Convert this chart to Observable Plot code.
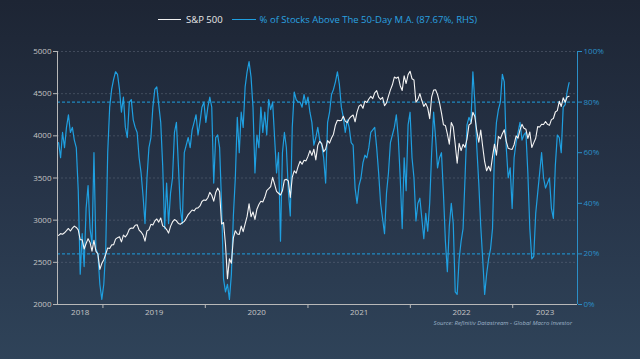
<!DOCTYPE html>
<html>
<head>
<meta charset="utf-8">
<script src="https://cdn.jsdelivr.net/npm/d3@7"></script>
<script src="https://cdn.jsdelivr.net/npm/@observablehq/plot@0.6"></script>
<style>
  html, body { margin: 0; padding: 0; width: 640px; height: 359px; overflow: hidden; }
  body { background: linear-gradient(to bottom, #1d2534 0%, #263347 50%, #2f4359 100%); font-family: "Open Sans", sans-serif; position: relative; }
  #legend { position: absolute; left: 158px; top: 12px; height: 15px; display: flex; align-items: center; font-size: 9.5px; white-space: nowrap; }
  .sw { display: inline-block; height: 1.5px; }
  #chart { position: absolute; left: 0; top: 40px; }
  #source { position: absolute; right: 68px; top: 319px; font-size: 6px; font-style: italic; color: #9db2c8; }
</style>
</head>
<body>
<div id="legend">
  <span class="sw" style="width:23px;background:#f2f2f2;margin-right:5px"></span>
  <span style="color:#e8e8e8;margin-right:9px">S&amp;P 500</span>
  <span class="sw" style="width:24px;background:#1f9fe0;margin-right:4px"></span>
  <span style="color:#2aa2e0">% of Stocks Above The 50-Day M.A. (87.67%, RHS)</span>
</div>
<div id="chart"></div>
<div id="source">Source: Refinitiv Datastream - Global Macro Investor</div>
<script>
// Weekly (Friday) observations, 2018-07-27 .. 2023-07-21
const firstWeek = "2018-07-27";
const lastWeek = "2023-07-21";

// S&P 500 index level (left axis)
const spx = [
  2818.8, 2840.4, 2833.3, 2850.1, 2874.7, 2901.5, 2871.7, 2904.9, 2929.7, 2914.0, 2885.6, 2767.1, 2767.8, 2658.7, 2723.1, 2781.0, 2736.3, 2632.6, 2760.2, 2633.1, 2599.0, 2416.6, 2485.7,
  2531.9, 2596.3, 2670.7, 2664.8, 2706.5, 2707.9, 2775.6, 2792.7, 2803.7, 2743.1, 2822.5, 2800.7, 2834.4, 2892.7, 2907.4, 2905.0, 2939.9, 2945.6, 2881.4, 2859.5, 2826.1, 2752.1, 2873.3, 2887.0, 2950.5, 2941.8, 2990.4, 3013.8, 2976.6, 3025.9, 2932.1, 2918.7, 2888.7, 2847.1, 2926.5, 2978.7, 3007.4, 2992.1, 2961.8, 2952.0, 2970.3, 2986.2, 3022.6, 3066.9, 3093.1, 3120.5, 3110.3, 3141.0, 3145.9, 3168.8, 3221.2, 3240.0,
  3234.9, 3265.4, 3329.6, 3295.5, 3225.5, 3327.7, 3380.2, 3337.8, 2954.2, 2972.4, 2711.0, 2304.9, 2541.5, 2488.7, 2789.8, 2874.6, 2836.7, 2830.7, 2929.8, 2863.7, 2955.5, 3044.3, 3193.9, 3041.3, 3097.7, 3009.1, 3130.0, 3185.0, 3224.7, 3215.6, 3271.1, 3351.3, 3372.9, 3397.2, 3508.0, 3427.0, 3341.0, 3319.5, 3298.5, 3348.4, 3477.1, 3483.8, 3465.4, 3270.0, 3509.4, 3585.2, 3557.5, 3638.4, 3699.1, 3663.5, 3709.4, 3703.1,
  3756.1, 3824.7, 3768.3, 3841.5, 3714.2, 3886.8, 3934.8, 3906.7, 3811.2, 3841.9, 3943.3, 3913.1, 3974.5, 4019.9, 4128.8, 4185.5, 4180.2, 4181.2, 4232.6, 4173.9, 4155.9, 4204.1, 4229.9, 4247.4, 4166.5, 4280.7, 4352.3, 4369.6, 4327.2, 4411.8, 4395.3, 4436.5, 4468.0, 4441.7, 4509.4, 4535.4, 4458.6, 4433.0, 4455.5, 4357.0, 4391.3, 4471.4, 4544.9, 4605.4, 4697.5, 4682.9, 4698.0, 4594.6, 4538.4, 4712.0, 4620.6, 4725.8, 4766.2,
  4677.0, 4662.9, 4397.9, 4431.9, 4500.5, 4418.6, 4348.9, 4384.7, 4328.9, 4204.3, 4463.1, 4543.1, 4545.9, 4488.3, 4392.6, 4271.8, 4131.9, 4123.3, 4023.9, 3901.4, 4158.2, 4108.5, 3900.9, 3674.8, 3911.7, 3825.3, 3899.4, 3863.2, 3961.6, 4130.3, 4145.2, 4280.2, 4228.5, 4057.7, 3924.3, 4067.4, 3873.3, 3693.2, 3585.6, 3639.7, 3583.1, 3752.8, 3901.1, 3770.6, 3992.9, 3965.3, 4026.1, 4071.7, 3934.4, 3852.4, 3844.8, 3839.5,
  3895.1, 3999.1, 3972.6, 4070.6, 4136.5, 4090.5, 4079.1, 3970.0, 4045.6, 3861.6, 3916.6, 3971.0, 4109.3, 4105.0, 4137.6, 4133.5, 4169.5, 4136.3, 4124.1, 4192.0, 4205.5, 4282.4, 4298.9, 4409.6, 4348.3, 4450.4, 4399.0, 4460.0, 4470.0
];

// % of stocks above their 50-day moving average (right axis)
const breadth = [
  64, 58, 68, 62, 70, 75, 68, 70, 65, 62,
  45, 12, 28, 15, 38, 47, 30, 24, 60, 22,
  20, 8, 2, 8, 22, 60, 78, 85, 89, 92,
  91, 85, 76, 82, 70, 66, 80, 81, 73, 70,
  68, 58, 52, 43, 32, 50, 62, 66, 78, 85,
  86, 79, 72, 55, 30, 48, 32, 44, 50, 68,
  72, 55, 38, 32, 60, 63, 66, 62, 69, 72,
  75, 67, 72, 78, 80, 72, 78, 82, 78, 48,
  66, 67, 62, 40, 10, 5, 8, 2, 12, 35,
  50, 74, 60, 76, 70, 86, 92, 96, 90, 78,
  52, 67, 62, 78, 68, 76, 67, 81, 77, 80,
  66, 52, 60, 25, 60, 68, 62, 45, 35, 70,
  84, 81, 80, 80, 78, 83, 79, 82, 76, 72,
  63, 66, 70, 65, 63, 58, 48, 72, 76, 83,
  85, 88, 92, 87, 78, 74, 68, 73, 70, 64,
  63, 46, 40, 47, 50, 56, 59, 58, 62, 68,
  69, 70, 62, 52, 40, 34, 28, 44, 52, 64,
  67, 70, 75, 66, 50, 30, 58, 45, 71, 76,
  58, 50, 33, 40, 42, 34, 26, 36, 29, 40,
  60, 76, 66, 54, 58, 60, 44, 25, 13, 31,
  40, 32, 5, 4, 18, 25, 30, 50, 71, 74,
  72, 92, 80, 62, 48, 31, 18, 4, 12, 18,
  22, 30, 60, 72, 77, 80, 91, 88, 62, 50,
  54, 38, 58, 64, 68, 72, 65, 67, 68, 52,
  30, 18, 19, 36, 44, 52, 60, 50, 46, 48,
  50, 38, 34, 55, 67, 66, 60, 78, 79, 84,
  87.67
];

const leftTicks = [2000, 2500, 3000, 3500, 4000, 4500, 5000];
const rightTicks = [0, 20, 40, 60, 80, 100];
const bands = [20, 80];
const years = [2018, 2019, 2020, 2021, 2022, 2023];
const xDomain = [new Date("2018-07-23"), new Date("2023-08-20")];
const leftDomain = [2000, 5000];

const dates = d3.utcFriday.range(new Date(firstWeek), d3.utcDay.offset(new Date(lastWeek), 1));
const spxRows = spx.map((v, i) => ({date: dates[i], value: v}));
const brRows = breadth.map((v, i) => ({date: dates[i], pct: v}));

// map percentage onto the left scale (dual axis)
const pctToLeft = p => leftDomain[0] + p / 100 * (leftDomain[1] - leftDomain[0]);

const yearStarts = years.slice(1).map(y => new Date(Date.UTC(y, 0, 1)));
const yearMids = years.map(y => {
  const a = Math.max(+new Date(Date.UTC(y, 0, 1)), +xDomain[0]);
  const b = Math.min(+new Date(Date.UTC(y + 1, 0, 1)), +xDomain[1]);
  return new Date((a + b) / 2);
});

const BLUE = "#1f9fe0";
const AXBLUE = "#2b8fc8";
const GRAY = "#c4c4c4";

const chart = Plot.plot({
  width: 640,
  height: 278,
  marginTop: 11,
  marginBottom: 14,
  marginLeft: 57,
  marginRight: 63,
  style: {background: "transparent", fontFamily: "Open Sans, sans-serif", fontSize: "8px", color: GRAY},
  x: {type: "utc", domain: xDomain},
  y: {domain: leftDomain},
  marks: [
    Plot.ruleY(leftTicks.slice(1), {stroke: "#6b7688", strokeOpacity: 0.55, strokeDasharray: "2,2", strokeWidth: 0.8}),
    Plot.ruleY(bands, {y: pctToLeft, stroke: BLUE, strokeDasharray: "3,2", strokeWidth: 1}),
    Plot.line(brRows, {x: "date", y: d => pctToLeft(d.pct), stroke: BLUE, strokeWidth: 1.2}),
    Plot.line(spxRows, {x: "date", y: "value", stroke: "#f4f4f4", strokeWidth: 1.1}),
    Plot.ruleX([xDomain[0]], {stroke: "#b8b8b8", strokeWidth: 1}),
    Plot.ruleY([leftDomain[0]], {stroke: "#b8b8b8", strokeWidth: 1}),
    Plot.ruleX([xDomain[1]], {stroke: AXBLUE, strokeWidth: 1}),
    Plot.axisY(leftTicks, {anchor: "left", tickSize: 4, tickPadding: 2, stroke: "#b8b8b8", fill: GRAY, label: null, tickFormat: d => String(d)}),
    Plot.axisY(rightTicks.map(pctToLeft), {anchor: "right", tickSize: 4, tickPadding: 2, stroke: AXBLUE, fill: AXBLUE, label: null,
      tickFormat: d => Math.round((d - leftDomain[0]) / (leftDomain[1] - leftDomain[0]) * 100) + "%"}),
    Plot.axisX(yearStarts, {anchor: "bottom", tickSize: 4, stroke: "#b8b8b8", tickFormat: () => "", label: null}),
    Plot.axisX(yearMids, {anchor: "bottom", tickSize: 0, tickPadding: 5, fill: GRAY, tickFormat: d3.utcFormat("%Y"), label: null})
  ]
});
document.getElementById("chart").appendChild(chart);
</script>
</body>
</html>
